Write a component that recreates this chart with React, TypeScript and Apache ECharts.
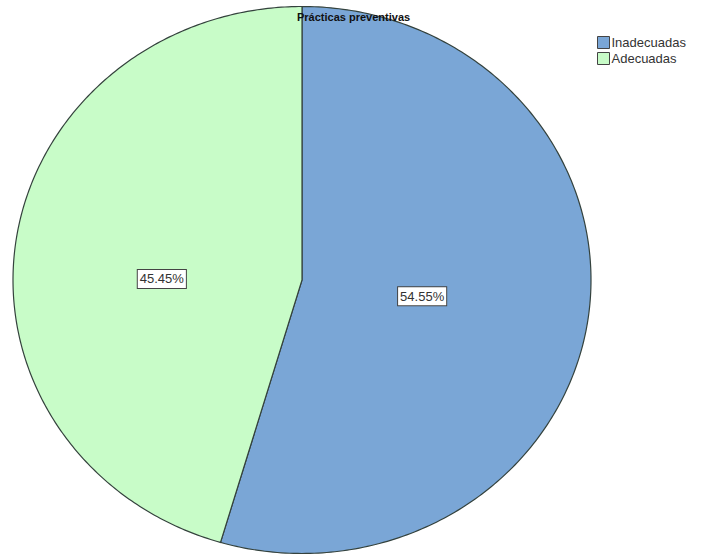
import React, { useEffect, useRef } from "react";
import * as echarts from "echarts";

const title = "Prácticas preventivas";
const categories = ["Inadecuadas", "Adecuadas"];
const values = [54.55, 45.45];
const colors = ["#7aa6d6", "#c8fcc8"];

export default function App() {
  const ref = useRef<HTMLDivElement>(null);
  useEffect(() => {
    if (!ref.current) return;
    const chart = echarts.init(ref.current, null, { renderer: "svg" });
    const total = values.reduce((a, b) => a + b, 0);
    const cx = 302, cy = 280, rx = 289, ry = 273.5;
    const labelR = [0.42, 0.49];
    const labelDy = [0, 18];
    const pt = (f: number, r = 1) => [
      cx + rx * r * Math.sin(2 * Math.PI * f),
      cy - ry * r * Math.cos(2 * Math.PI * f),
    ];
    const series = categories.map((name, i) => ({
      type: "custom",
      name,
      coordinateSystem: "none",
      data: [values[i]],
      itemStyle: { color: colors[i], borderColor: "#444", borderWidth: 1 },
      renderItem: (params: any, api: any) => {
        const idx = params.seriesIndex;
        let start = 0;
        for (let k = 0; k < idx; k++) start += values[k];
        const f0 = start / total;
        const f1 = (start + api.value(0)) / total;
        const pts: number[][] = [[cx, cy]];
        const N = 240;
        for (let s = 0; s <= N; s++) pts.push(pt(f0 + ((f1 - f0) * s) / N));
        const mid = (f0 + f1) / 2;
        const lp = pt(mid, labelR[idx]);
        const pct = ((api.value(0) / total) * 100).toFixed(2) + "%";
        return {
          type: "group",
          children: [
            {
              type: "polygon",
              shape: { points: pts },
              style: { fill: colors[idx], stroke: "#34423d", lineWidth: 1.2 },
            },
            {
              type: "text",
              x: lp[0],
              y: lp[1] + labelDy[idx],
              style: {
                text: pct,
                align: "center",
                verticalAlign: "middle",
                fill: "#333",
                font: "13px 'Liberation Sans', Arial, sans-serif",
                backgroundColor: "#ffffff",
                borderColor: "#444",
                borderWidth: 1,
                padding: [3, 2, 2, 2],
              },
            },
          ],
        };
      },
    }));
    chart.setOption({
      animation: false,
      backgroundColor: "#ffffff",
      title: {
        text: title,
        left: 297,
        top: 11,
        padding: 0,
        textStyle: {
          fontSize: 11,
          fontWeight: "bold",
          fontFamily: "'Liberation Sans', Arial, sans-serif",
          color: "#111",
        },
      },
      legend: {
        orient: "vertical",
        left: 597,
        top: 36,
        padding: 0,
        itemWidth: 12,
        itemHeight: 12,
        itemGap: 3,
        icon: "rect",
        data: categories,
        itemStyle: { borderColor: "#444", borderWidth: 1 },
        textStyle: {
          fontSize: 13,
          color: "#333",
          padding: [0, 0, 0, -3],
          fontFamily: "'Liberation Sans', Arial, sans-serif",
        },
      },
      series,
    } as any);
    return () => chart.dispose();
  }, []);
  return (
    <div
      ref={ref}
      style={{ position: "fixed", left: 0, top: 0, width: 726, height: 556 }}
    />
  );
}
